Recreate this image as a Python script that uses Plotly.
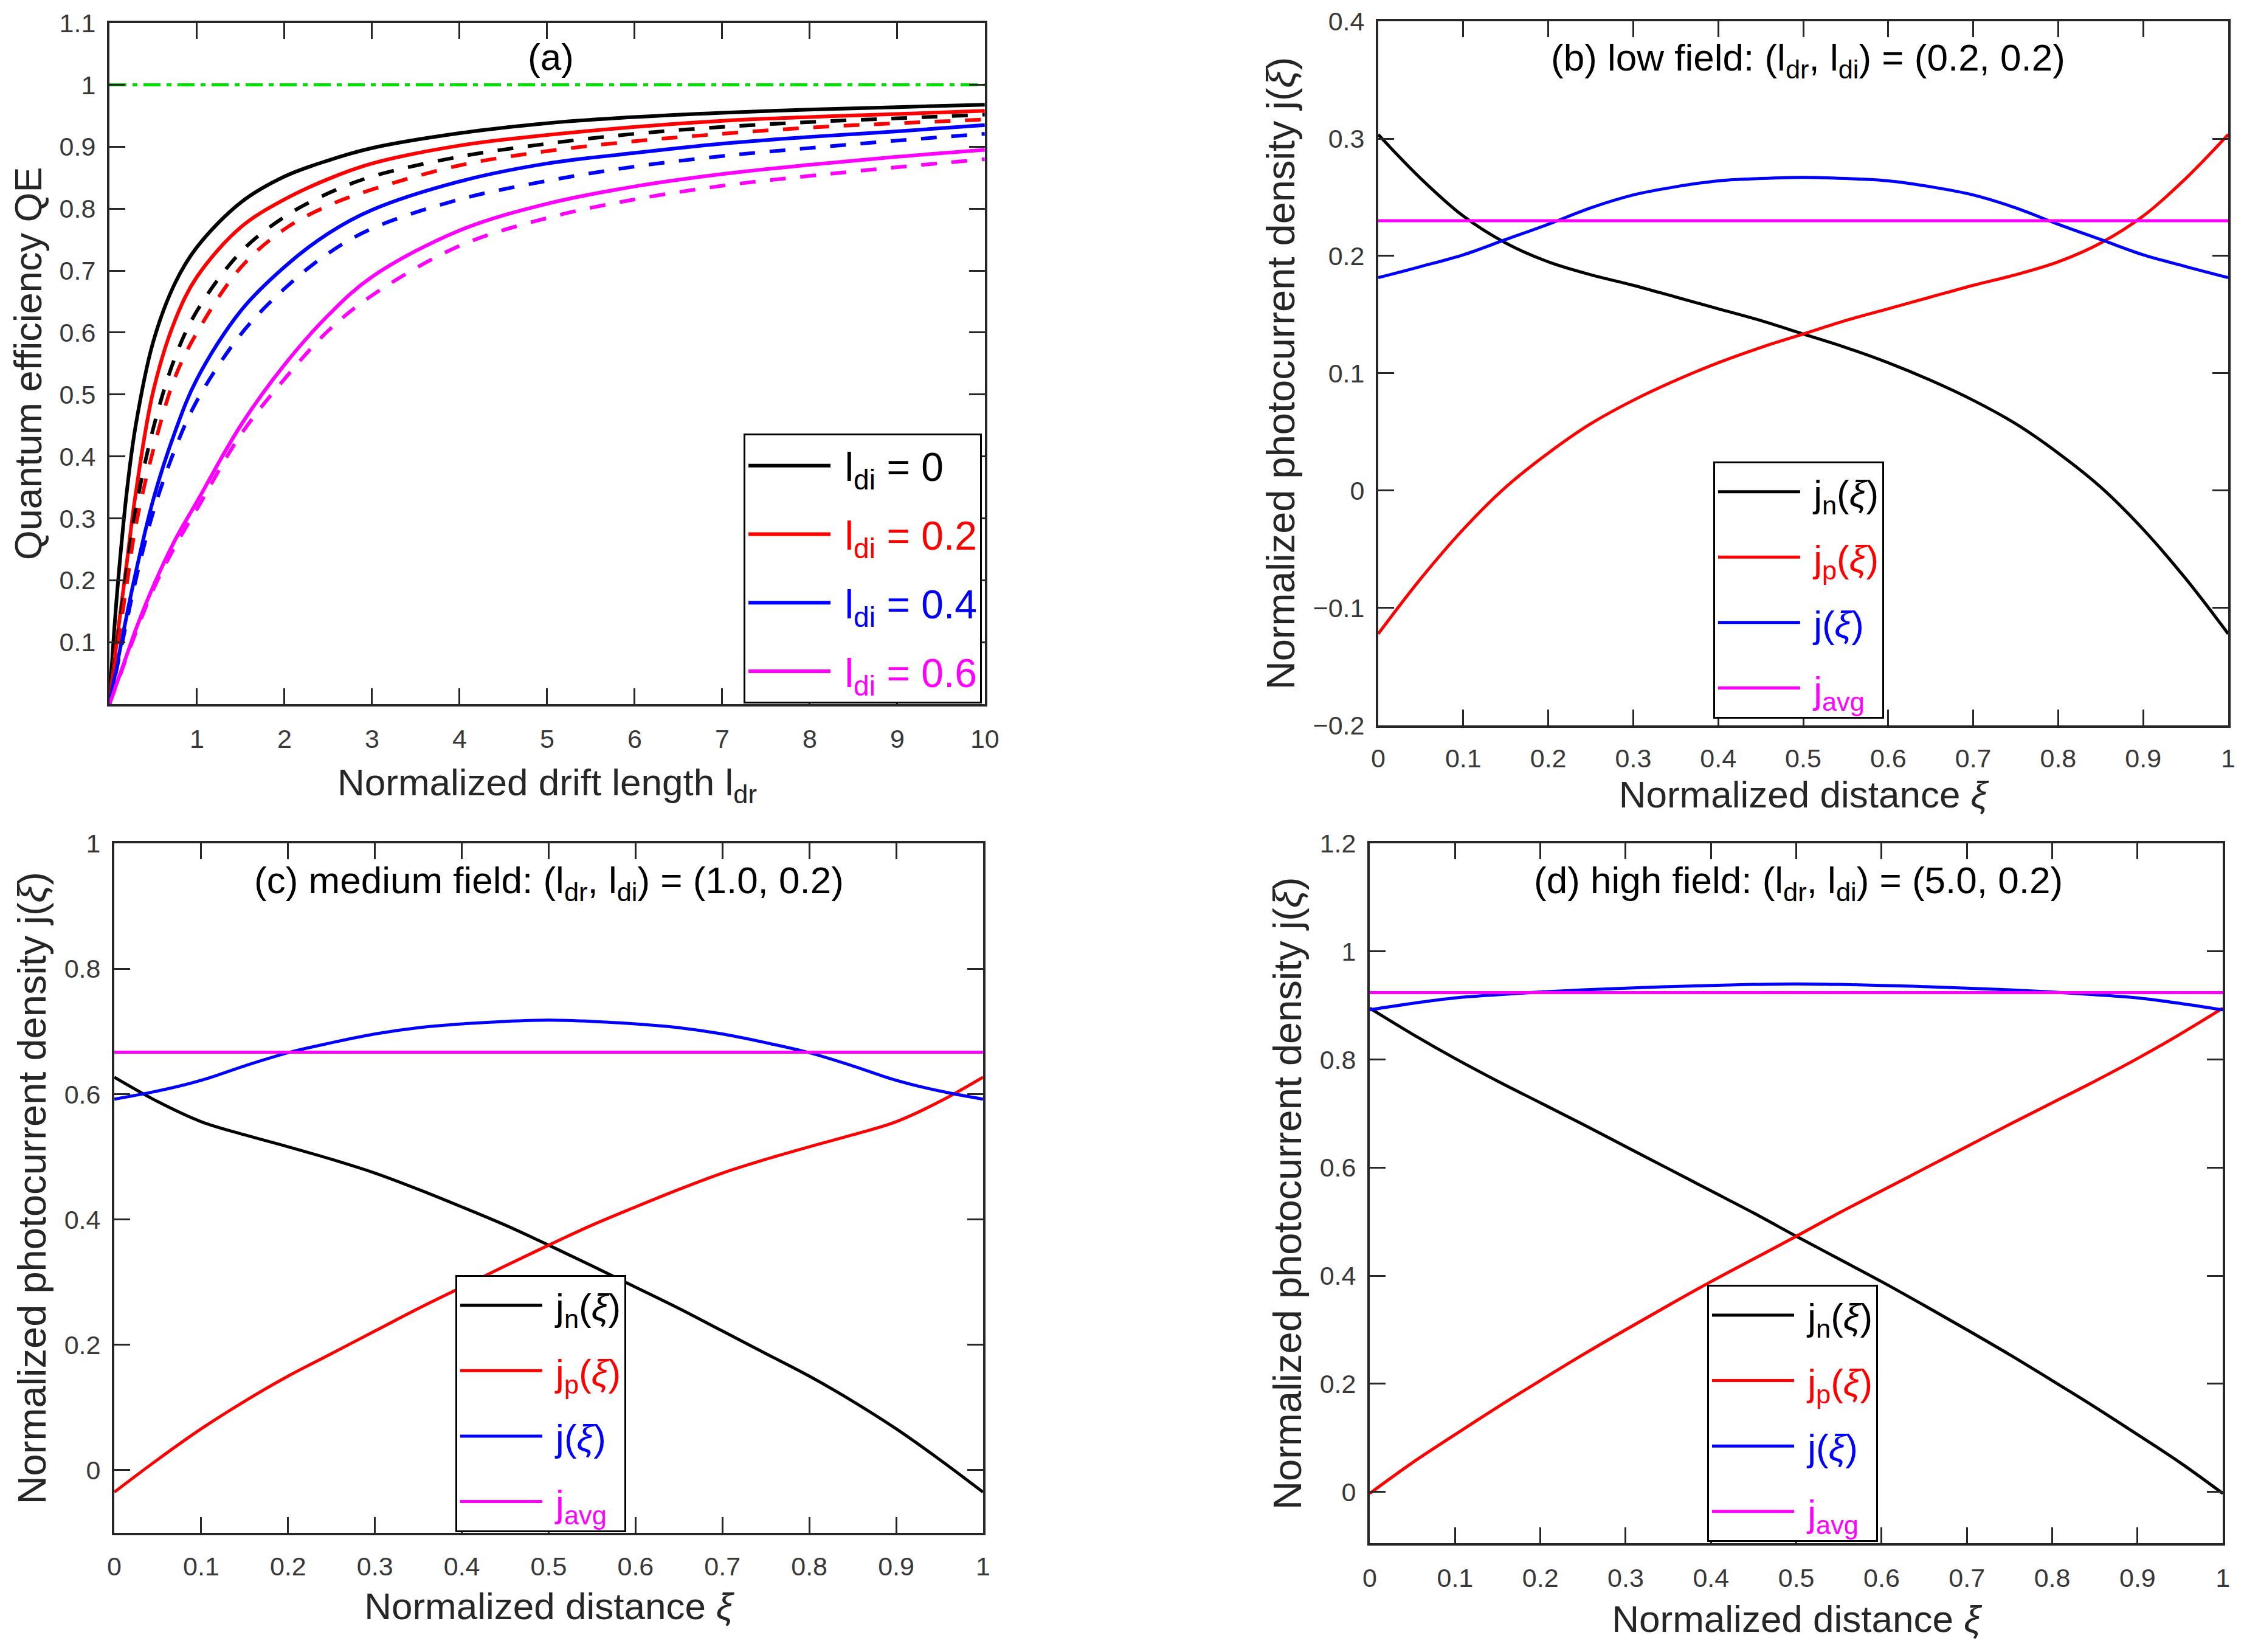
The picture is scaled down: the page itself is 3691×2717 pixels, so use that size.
import plotly.graph_objects as go

FONT = "Liberation Sans Narrow, Liberation Sans, Arial"
AXC = "#262626"

# ---- panel (a): quantum efficiency vs normalized drift length ----
l_dr = [0, 0.05, 0.1, 0.2, 0.3, 0.5, 0.75, 1, 1.5, 2, 2.5, 3, 4, 5, 6, 7, 8, 9, 10]
qe_di0 = [0, 0.11, 0.20, 0.345, 0.45, 0.585, 0.68, 0.738, 0.81, 0.852, 0.878, 0.898, 0.922, 0.938, 0.948, 0.955, 0.960, 0.964, 0.968]
qe_di0_d = [0, 0.055, 0.11, 0.22, 0.315, 0.445, 0.56, 0.635, 0.73, 0.787, 0.825, 0.852, 0.884, 0.905, 0.921, 0.932, 0.940, 0.946, 0.952]
qe_di2 = [0, 0.062, 0.12, 0.23, 0.34, 0.505, 0.62, 0.69, 0.77, 0.815, 0.848, 0.873, 0.902, 0.919, 0.932, 0.942, 0.948, 0.953, 0.958]
qe_di2_d = [0, 0.05, 0.10, 0.195, 0.287, 0.41, 0.528, 0.60, 0.705, 0.767, 0.805, 0.831, 0.870, 0.893, 0.909, 0.921, 0.931, 0.938, 0.944]
qe_di4 = [0, 0.037, 0.073, 0.145, 0.212, 0.33, 0.44, 0.525, 0.635, 0.706, 0.760, 0.798, 0.844, 0.873, 0.890, 0.905, 0.916, 0.925, 0.935]
qe_di4_d = [0, 0.034, 0.068, 0.135, 0.20, 0.31, 0.412, 0.49, 0.597, 0.671, 0.728, 0.768, 0.815, 0.845, 0.868, 0.885, 0.898, 0.910, 0.921]
qe_di6 = [0, 0.02, 0.04, 0.08, 0.12, 0.19, 0.265, 0.327, 0.45, 0.548, 0.628, 0.69, 0.765, 0.808, 0.836, 0.856, 0.871, 0.884, 0.895]
qe_di6_d = [0, 0.019, 0.038, 0.077, 0.115, 0.185, 0.255, 0.315, 0.435, 0.525, 0.603, 0.66, 0.74, 0.785, 0.815, 0.837, 0.853, 0.867, 0.880]
qe_lim_x = [0, 10]
qe_lim = [1, 1]

# ---- panels (b)-(d): photocurrent density vs normalized distance ----
xi = [0, 0.05, 0.1, 0.15, 0.2, 0.25, 0.3, 0.35, 0.4, 0.45, 0.5,
      0.55, 0.6, 0.65, 0.7, 0.75, 0.8, 0.85, 0.9, 0.95, 1]

jn_low = [0.3035, 0.266, 0.234, 0.211, 0.195, 0.184, 0.175, 0.165, 0.155, 0.145, 0.1335,
          0.122, 0.109, 0.094, 0.077, 0.057, 0.032, 0.003, -0.033, -0.075, -0.122]
jp_low = [-0.122, -0.075, -0.033, 0.003, 0.032, 0.057, 0.077, 0.094, 0.109, 0.122, 0.1335,
          0.145, 0.155, 0.165, 0.175, 0.184, 0.195, 0.211, 0.234, 0.266, 0.3035]
j_low = [0.1815, 0.191, 0.201, 0.214, 0.227, 0.241, 0.252, 0.259, 0.264, 0.266, 0.267,
         0.266, 0.264, 0.259, 0.252, 0.241, 0.227, 0.214, 0.201, 0.191, 0.1815]
javg_low = [0.23, 0.23]

jn_med = [0.627, 0.588, 0.556, 0.535, 0.516, 0.496, 0.474, 0.448, 0.420, 0.391, 0.359,
          0.326, 0.292, 0.258, 0.222, 0.186, 0.150, 0.110, 0.066, 0.017, -0.035]
jp_med = [-0.035, 0.017, 0.066, 0.110, 0.150, 0.186, 0.222, 0.258, 0.292, 0.326, 0.359,
          0.391, 0.420, 0.448, 0.474, 0.496, 0.516, 0.535, 0.556, 0.588, 0.627]
j_med = [0.592, 0.605, 0.622, 0.645, 0.666, 0.682, 0.696, 0.706, 0.712, 0.716, 0.718,
         0.716, 0.712, 0.706, 0.696, 0.682, 0.666, 0.645, 0.622, 0.605, 0.592]
javg_med = [0.667, 0.667]

jn_high = [0.895, 0.847, 0.802, 0.760, 0.720, 0.680, 0.639, 0.598, 0.557, 0.516, 0.473,
           0.431, 0.389, 0.345, 0.300, 0.254, 0.206, 0.157, 0.106, 0.054, -0.003]
jp_high = [-0.003, 0.054, 0.106, 0.157, 0.206, 0.254, 0.300, 0.345, 0.389, 0.431, 0.473,
           0.516, 0.557, 0.598, 0.639, 0.680, 0.720, 0.760, 0.802, 0.847, 0.895]
j_high = [0.892, 0.904, 0.914, 0.920, 0.925, 0.929, 0.932, 0.935, 0.937, 0.939, 0.940,
          0.939, 0.937, 0.935, 0.932, 0.929, 0.925, 0.920, 0.914, 0.904, 0.892]
javg_high = [0.924, 0.924]
xi_ends = [0, 1]

fig = go.Figure()
SP = "\u00a0"


def line(x, y, color, ax, name=None, dash="solid", legend=None, width=6):
    fig.add_trace(go.Scatter(
        x=x, y=y, mode="lines", line=dict(color=color, width=width, dash=dash, shape="spline", smoothing=1),
        xaxis="x" + ax, yaxis="y" + ax, name=name, showlegend=name is not None,
        legend=legend, legendgroup=name, hoverinfo="skip"))


def colored(txt, c):
    return '%s<span style="color:%s">%s</span>' % (SP, c, txt)


# (a)
line(qe_lim_x, qe_lim, "#00e000", "", dash="28px,10px,8px,10px", width=5)
for y, c, nm in [(qe_di0, "black", "l<sub>di</sub> = 0"), (qe_di2, "red", "l<sub>di</sub> = 0.2"),
                 (qe_di4, "blue", "l<sub>di</sub> = 0.4"), (qe_di6, "magenta", "l<sub>di</sub> = 0.6")]:
    line(l_dr, y, c, "", name=colored(nm, c), legend="legend")
for y, c in [(qe_di0_d, "black"), (qe_di2_d, "red"), (qe_di4_d, "blue"), (qe_di6_d, "magenta")]:
    line(l_dr, y, c, "", dash="26px,24px")

# (b)-(d)
panels = [("2", "legend2", jn_low, jp_low, j_low, javg_low),
          ("3", "legend3", jn_med, jp_med, j_med, javg_med),
          ("4", "legend4", jn_high, jp_high, j_high, javg_high)]
for ax, lg, jn, jp, jt, ja in panels:
    line(xi, jn, "black", ax, name=colored("j<sub>n</sub>(<i>ξ</i>)", "black"), legend=lg, width=5)
    line(xi, jp, "red", ax, name=colored("j<sub>p</sub>(<i>ξ</i>)", "red"), legend=lg, width=5)
    line(xi, jt, "blue", ax, name=colored("j(<i>ξ</i>)", "blue"), legend=lg, width=5)
    line(xi_ends, ja, "magenta", ax, name=colored("j<sub>avg</sub>", "magenta"), legend=lg, width=5)


def axis(domain, rng, vals, texts, title, anchor, tsize=62, standoff=24, lab=16):
    return dict(domain=domain, range=rng, tickvals=vals, ticktext=texts, anchor=anchor,
                automargin=False, ticklabeloverflow="allow", ticklabelstandoff=lab,
                showline=True, linecolor=AXC, linewidth=4, mirror="ticks", ticks="inside",
                ticklen=26, tickwidth=3, tickcolor=AXC, showgrid=False, zeroline=False,
                tickfont=dict(family=FONT, size=43, color="#383838"),
                title=dict(text=title, font=dict(family=FONT, size=tsize, color=AXC), standoff=standoff))


xi_ticks = [0, 0.1, 0.2, 0.3, 0.4, 0.5, 0.6, 0.7, 0.8, 0.9, 1]
xi_text = ["0", "0.1", "0.2", "0.3", "0.4", "0.5", "0.6", "0.7", "0.8", "0.9", "1"]
xi_title = "Normalized distance <i>ξ</i>"
j_title = "Normalized photocurrent density j(<i>ξ</i>)"

a_yt = [0.1, 0.2, 0.3, 0.4, 0.5, 0.6, 0.7, 0.8, 0.9, 1, 1.1]
b_yt = [-0.2, -0.1, 0, 0.1, 0.2, 0.3, 0.4]
c_yt = [0, 0.2, 0.4, 0.6, 0.8, 1]
d_yt = [0, 0.2, 0.4, 0.6, 0.8, 1, 1.2]


def fmt(v):
    s = ("%g" % v)
    return s.replace("-", "−")


def legend_box(x, y, xanchor, size):
    return dict(x=x, y=y, xanchor=xanchor, yanchor="bottom", bgcolor="white", bordercolor="black",
                borderwidth=3, font=dict(family=FONT, size=size, color="black"), itemwidth=135,
                tracegroupgap=24)


fig.update_layout(
    width=3675, height=2701, margin=dict(l=0, r=0, t=0, b=0),
    paper_bgcolor="white", plot_bgcolor="white", font=dict(family=FONT),
    xaxis=axis([0.0468, 0.4386], [0, 10], list(range(1, 11)), [str(v) for v in range(1, 11)],
               "Normalized drift length l<sub>dr</sub>", "y", standoff=28),
    yaxis=axis([0.5742, 0.9890], [0, 1.1], a_yt, [fmt(v) for v in a_yt], "Quantum efficiency QE", "x",
               63, standoff=10, lab=10),
    xaxis2=axis([0.6147, 0.9951], [0, 1], xi_ticks, xi_text, xi_title, "y2", standoff=16, lab=13),
    yaxis2=axis([0.5613, 0.9900], [-0.2, 0.4], b_yt, [fmt(v) for v in b_yt], j_title, "x2",
                65, standoff=10, lab=10),
    xaxis3=axis([0.0490, 0.4378], [0, 1], xi_ticks, xi_text, xi_title, "y3", standoff=22, lab=14),
    yaxis3=axis([0.0696, 0.4894], [-0.1, 1], c_yt, [fmt(v) for v in c_yt], j_title, "x3",
                65, standoff=10, lab=10),
    xaxis4=axis([0.6109, 0.9927], [0, 1], xi_ticks, xi_text, xi_title, "y4", standoff=24),
    yaxis4=axis([0.0633, 0.4894], [-0.095, 1.2], d_yt, [fmt(v) for v in d_yt], j_title, "x4",
                65, standoff=10, lab=10),
    legend=legend_box(0.4373, 0.5745, "right", 66),
    legend2=legend_box(0.7646, 0.5654, "left", 62),
    legend3=legend_box(0.2016, 0.0700, "left", 62),
    legend4=legend_box(0.7619, 0.0640, "left", 62),
)

titles = [
    (0.2444, 0.9682, "(a)"),
    (0.8071, 0.9663, "(b) low field: (l<sub>dr</sub>, l<sub>di</sub>) = (0.2, 0.2)"),
    (0.2435, 0.4654, "(c) medium field: (l<sub>dr</sub>, l<sub>di</sub>) = (1.0, 0.2)"),
    (0.8027, 0.4654, "(d) high field: (l<sub>dr</sub>, l<sub>di</sub>) = (5.0, 0.2)"),
]
for x, y, t in titles:
    fig.add_annotation(x=x, y=y, xref="paper", yref="paper", text=t, showarrow=False,
                       xanchor="center", yanchor="middle",
                       font=dict(family=FONT, size=62, color="black"))

fig.write_html("out.html")
